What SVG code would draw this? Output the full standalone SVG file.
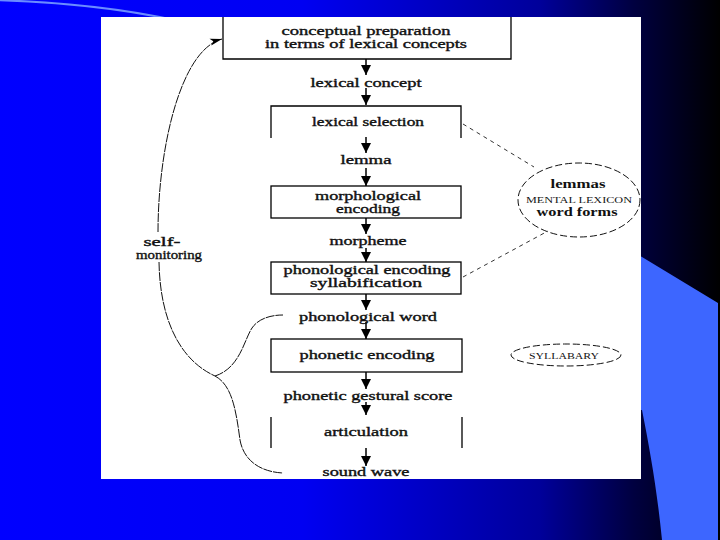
<svg xmlns="http://www.w3.org/2000/svg" width="720" height="540" viewBox="0 0 720 540">
<defs>
<linearGradient id="bg" x1="0" y1="0" x2="1" y2="0">
<stop offset="0" stop-color="#0000ff"/>
<stop offset="0.42" stop-color="#0000f2"/>
<stop offset="0.75" stop-color="#00009a"/>
<stop offset="0.88" stop-color="#000040"/>
<stop offset="1" stop-color="#000000"/>
</linearGradient>
<marker id="ah" markerUnits="userSpaceOnUse" markerWidth="10" markerHeight="10" viewBox="0 0 10 10" refX="10" refY="5" orient="auto">
<path d="M0,0 L10,5 L0,10 z" fill="#000"/>
</marker>
<marker id="ah2" markerUnits="userSpaceOnUse" markerWidth="12" markerHeight="8" viewBox="0 0 12 8" refX="12" refY="4" orient="auto">
<path d="M0,0.5 L12,4 L0,7.5 L3,4 z" fill="#000"/>
</marker>
<style>
.t{font-family:"Liberation Serif","Times New Roman",serif;font-size:12px;fill:#111;stroke:#111;stroke-width:0.35;text-anchor:middle}
.b{font-weight:bold;stroke-width:0}
.sc{font-family:"Liberation Serif","Times New Roman",serif;font-size:9px;fill:#111;text-anchor:middle}
.box{fill:none;stroke:#000;stroke-width:1.3}
.arr{stroke:#000;stroke-width:1.5;fill:none;marker-end:url(#ah)}
.loop{stroke:#111;stroke-width:1;fill:none;stroke-dasharray:9 1}
.dash{stroke:#333;stroke-width:1;fill:none;stroke-dasharray:4 4}
.ell{stroke:#111;stroke-width:1;fill:none;stroke-dasharray:7 3}
</style>
</defs>
<rect x="0" y="0" width="720" height="540" fill="url(#bg)"/>
<path d="M-5,0 C60,2 130,8 200,26" fill="none" stroke="#6a8cff" stroke-width="2"/>
<path d="M630,250 L642,257 L718,303 L718,540 L662,540 C657,490 650,450 642,410 L630,410 Z" fill="#3d66ff"/>
<rect x="101" y="17" width="540" height="462" fill="#fff"/>

<g id="connectors">
<line class="arr" x1="366" y1="59" x2="366" y2="75"/>
<line class="arr" x1="366" y1="88" x2="366" y2="105"/>
<line class="arr" x1="366" y1="137" x2="366" y2="153"/>
<line class="arr" x1="366" y1="168" x2="366" y2="186"/>
<line class="arr" x1="366" y1="218" x2="366" y2="234"/>
<line class="arr" x1="366" y1="248" x2="366" y2="262"/>
<line class="arr" x1="366" y1="294" x2="366" y2="310"/>
<line class="arr" x1="366" y1="322" x2="366" y2="339"/>
<line class="arr" x1="366" y1="372" x2="366" y2="389"/>
<line class="arr" x1="366" y1="402" x2="366" y2="415"/>
<line class="arr" x1="366" y1="448" x2="366" y2="466"/>
<path class="loop" d="M158,232 C158,150 180,50 222,39" marker-end="url(#ah2)"/>
<path class="loop" d="M159,262 C160,320 180,360 215,376"/>
<path class="loop" d="M215,376 C240,368 244,340 252,328 C258,319 270,315 283,315"/>
<path class="loop" d="M215,376 C232,385 236,410 240,440 C244,462 262,472 283,473"/>
<line class="dash" x1="463" y1="124" x2="534" y2="167"/>
<line class="dash" x1="463" y1="277" x2="548" y2="231"/>
</g>

<g id="conceptual-preparation">
<path class="box" d="M223,17 V59 H511 V17"/>
<text class="t" x="366" y="35" textLength="169" lengthAdjust="spacingAndGlyphs">conceptual preparation</text>
<text class="t" x="366" y="48" textLength="202" lengthAdjust="spacingAndGlyphs">in terms of lexical concepts</text>
</g>
<g id="lexical-concept">
<text class="t" x="366" y="87" textLength="111" lengthAdjust="spacingAndGlyphs">lexical concept</text>
</g>
<g id="lexical-selection">
<path class="box" d="M271,138 V106 H461 V138"/>
<text class="t" x="368" y="126" textLength="112" lengthAdjust="spacingAndGlyphs">lexical selection</text>
</g>
<g id="lemma">
<text class="t" x="366" y="164" textLength="51" lengthAdjust="spacingAndGlyphs">lemma</text>
</g>
<g id="morphological-encoding">
<rect class="box" x="271" y="186" width="190" height="32"/>
<text class="t" x="368" y="200" textLength="106" lengthAdjust="spacingAndGlyphs">morphological</text>
<text class="t" x="368" y="213" textLength="64" lengthAdjust="spacingAndGlyphs">encoding</text>
</g>
<g id="morpheme">
<text class="t" x="368" y="245" textLength="77" lengthAdjust="spacingAndGlyphs">morpheme</text>
</g>
<g id="phonological-encoding">
<rect class="box" x="271" y="262" width="190" height="32"/>
<text class="t" x="367" y="274" textLength="167" lengthAdjust="spacingAndGlyphs">phonological encoding</text>
<text class="t" x="366" y="287" textLength="112" lengthAdjust="spacingAndGlyphs">syllabification</text>
</g>
<g id="phonological-word">
<text class="t" x="368" y="321" textLength="138" lengthAdjust="spacingAndGlyphs">phonological word</text>
</g>
<g id="phonetic-encoding">
<rect class="box" x="271" y="339" width="191" height="33"/>
<text class="t" x="367" y="359" textLength="135" lengthAdjust="spacingAndGlyphs">phonetic encoding</text>
</g>
<g id="phonetic-gestural-score">
<text class="t" x="368" y="400" textLength="169" lengthAdjust="spacingAndGlyphs">phonetic gestural score</text>
</g>
<g id="articulation">
<path class="box" d="M271,417 V448 M462,417 V448"/>
<text class="t" x="366" y="436" textLength="84" lengthAdjust="spacingAndGlyphs">articulation</text>
</g>
<g id="sound-wave">
<text class="t" x="366" y="476" textLength="87" lengthAdjust="spacingAndGlyphs">sound wave</text>
</g>
<g id="self-monitoring">
<text class="t" x="162" y="246" textLength="37" lengthAdjust="spacingAndGlyphs">self-</text>
<text class="t" x="169" y="259" textLength="66" lengthAdjust="spacingAndGlyphs">monitoring</text>
</g>
<g id="mental-lexicon">
<ellipse class="ell" cx="579" cy="200" rx="61" ry="37"/>
<text class="t b" x="578" y="188" textLength="55" lengthAdjust="spacingAndGlyphs">lemmas</text>
<text class="sc" x="579" y="203" textLength="106" lengthAdjust="spacingAndGlyphs">MENTAL LEXICON</text>
<text class="t b" x="577" y="216" textLength="81" lengthAdjust="spacingAndGlyphs">word forms</text>
</g>
<g id="syllabary">
<ellipse class="ell" cx="566" cy="355" rx="55" ry="11"/>
<text class="sc" x="564" y="359" textLength="70" lengthAdjust="spacingAndGlyphs">SYLLABARY</text>
</g>
</svg>
